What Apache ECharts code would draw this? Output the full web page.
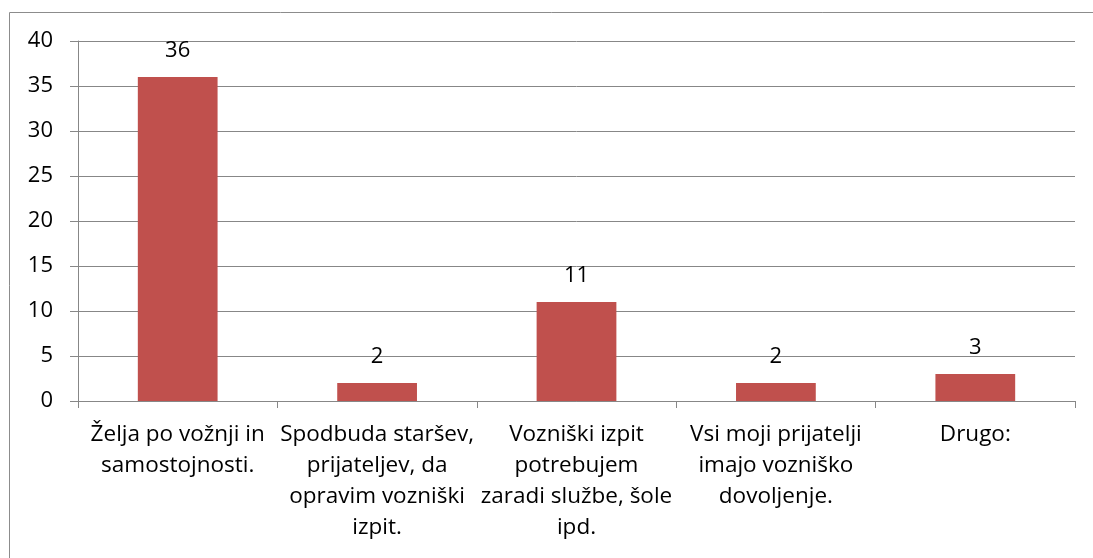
<!DOCTYPE html>
<html>
<head>
<meta charset="utf-8">
<script src="https://cdn.jsdelivr.net/npm/echarts@6/dist/echarts.min.js"></script>
<style>
  html, body { margin: 0; padding: 0; background: #fff; }
  #chart { width: 1093px; height: 558px; }
</style>
</head>
<body>
<div id="chart"></div>
<script>
const categories = [
  'Želja po vožnji in\nsamostojnosti.',
  'Spodbuda staršev,\nprijateljev, da\nopravim vozniški\nizpit.',
  'Vozniški izpit\npotrebujem\nzaradi službe, šole\nipd.',
  'Vsi moji prijatelji\nimajo vozniško\ndovoljenje.',
  'Drugo:'
];
const values = [36, 2, 11, 2, 3];

const chart = echarts.init(document.getElementById('chart'));
const font = '"Open Sans", sans-serif';
const gray = '#878787';

chart.setOption({
  animation: false,
  textStyle: { fontFamily: font },
  graphic: [{
    type: 'rect',
    shape: { x: 9.5, y: 12.5, width: 1200, height: 700 },
    style: { fill: 'none', stroke: '#8c8c8c', lineWidth: 1 },
    silent: true
  }],
  grid: { left: 78, right: 18, top: 41, bottom: 157 },
  xAxis: {
    type: 'category',
    data: categories,
    axisLine: { lineStyle: { color: gray, width: 1 } },
    axisTick: { show: true, length: 7, lineStyle: { color: gray } },
    axisLabel: {
      color: '#000', fontSize: 22.5, lineHeight: 31, margin: 18,
      fontFamily: font, interval: 0
    }
  },
  yAxis: {
    type: 'value',
    min: 0, max: 40, interval: 5,
    axisLine: { show: true, lineStyle: { color: gray, width: 1 } },
    axisTick: { show: true, length: 8, lineStyle: { color: gray } },
    splitLine: { lineStyle: { color: gray, width: 1 } },
    axisLabel: { color: '#000', fontSize: 22, margin: 25, fontFamily: font }
  },
  series: [{
    type: 'bar',
    data: values,
    barWidth: '40%',
    itemStyle: { color: '#C0504D' },
    label: {
      show: true, position: 'top', distance: 15,
      color: '#000', fontSize: 22, fontFamily: font
    }
  }]
});
</script>
</body>
</html>
